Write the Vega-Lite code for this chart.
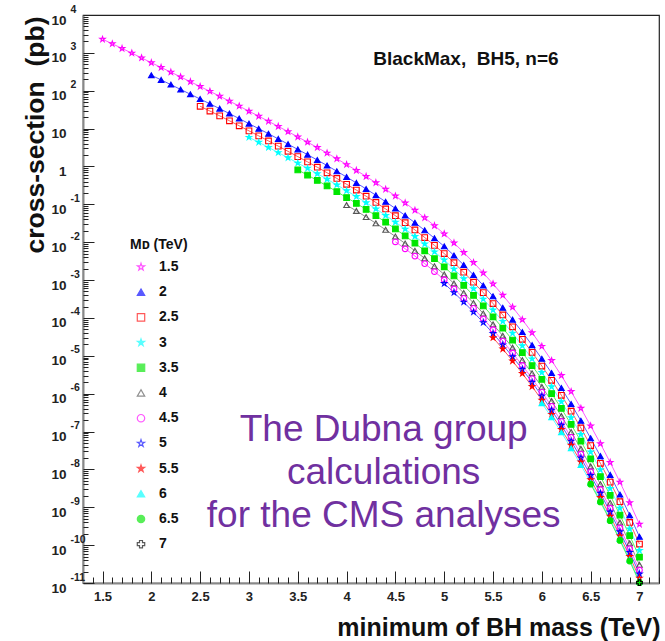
{
"$schema": "https://vega.github.io/schema/vega-lite/v6.json",
"width": 576, "height": 568,
"autosize": "none",
"padding": {"left": 83, "top": 15, "right": 6, "bottom": 58},
"background": "white",
"config": {"view": {"stroke": "#222", "strokeWidth": 1.2}, "font": "Liberation Sans"},
"resolve": {"axis": {"x": "independent", "y": "independent"}},
"datasets": {"curves": [
{"md":"1.5","mass":1.5,"xsec":2290},{"md":"1.5","mass":1.6,"xsec":1740},{"md":"1.5","mass":1.7,"xsec":1310},{"md":"1.5","mass":1.8,"xsec":986},{"md":"1.5","mass":1.9,"xsec":738},{"md":"1.5","mass":2.0,"xsec":550},{"md":"1.5","mass":2.1,"xsec":413},{"md":"1.5","mass":2.2,"xsec":310},{"md":"1.5","mass":2.3,"xsec":232},{"md":"1.5","mass":2.4,"xsec":173},{"md":"1.5","mass":2.5,"xsec":129},{"md":"1.5","mass":2.6,"xsec":96.4},{"md":"1.5","mass":2.7,"xsec":71.8},{"md":"1.5","mass":2.8,"xsec":53.2},{"md":"1.5","mass":2.9,"xsec":39.3},{"md":"1.5","mass":3.0,"xsec":28.8},{"md":"1.5","mass":3.1,"xsec":21.3},{"md":"1.5","mass":3.2,"xsec":15.6},{"md":"1.5","mass":3.3,"xsec":11.43},{"md":"1.5","mass":3.4,"xsec":8.32},{"md":"1.5","mass":3.5,"xsec":6.03},{"md":"1.5","mass":3.6,"xsec":4.39},{"md":"1.5","mass":3.7,"xsec":3.16},{"md":"1.5","mass":3.8,"xsec":2.26},{"md":"1.5","mass":3.9,"xsec":1.60},{"md":"1.5","mass":4.0,"xsec":1.122},{"md":"1.5","mass":4.1,"xsec":0.787},{"md":"1.5","mass":4.2,"xsec":0.545},{"md":"1.5","mass":4.3,"xsec":0.372},{"md":"1.5","mass":4.4,"xsec":0.250},{"md":"1.5","mass":4.5,"xsec":0.166},{"md":"1.5","mass":4.6,"xsec":0.1086},{"md":"1.5","mass":4.7,"xsec":0.0698},{"md":"1.5","mass":4.8,"xsec":0.0441},{"md":"1.5","mass":4.9,"xsec":0.0273},{"md":"1.5","mass":5.0,"xsec":0.0166},{"md":"1.5","mass":5.1,"xsec":0.00955},{"md":"1.5","mass":5.2,"xsec":0.00535},{"md":"1.5","mass":5.3,"xsec":0.00291},{"md":"1.5","mass":5.4,"xsec":0.00154},{"md":"1.5","mass":5.5,"xsec":7.94e-4},{"md":"1.5","mass":5.6,"xsec":3.98e-4},{"md":"1.5","mass":5.7,"xsec":1.93e-4},{"md":"1.5","mass":5.8,"xsec":9.02e-5},{"md":"1.5","mass":5.9,"xsec":4.07e-5},{"md":"1.5","mass":6.0,"xsec":1.78e-5},{"md":"1.5","mass":6.1,"xsec":7.50e-6},{"md":"1.5","mass":6.2,"xsec":3.01e-6},{"md":"1.5","mass":6.3,"xsec":1.14e-6},{"md":"1.5","mass":6.4,"xsec":4.12e-7},{"md":"1.5","mass":6.5,"xsec":1.41e-7},{"md":"1.5","mass":6.6,"xsec":4.79e-8},{"md":"1.5","mass":6.7,"xsec":1.53e-8},{"md":"1.5","mass":6.8,"xsec":4.62e-9},{"md":"1.5","mass":6.9,"xsec":1.32e-9},{"md":"1.5","mass":7.0,"xsec":3.55e-10},
{"md":"2","mass":2.0,"xsec":257},{"md":"2","mass":2.1,"xsec":193},{"md":"2","mass":2.2,"xsec":145},{"md":"2","mass":2.3,"xsec":108},{"md":"2","mass":2.4,"xsec":80.9},{"md":"2","mass":2.5,"xsec":60.3},{"md":"2","mass":2.6,"xsec":45.1},{"md":"2","mass":2.7,"xsec":33.6},{"md":"2","mass":2.8,"xsec":24.9},{"md":"2","mass":2.9,"xsec":18.4},{"md":"2","mass":3.0,"xsec":13.5},{"md":"2","mass":3.1,"xsec":9.95},{"md":"2","mass":3.2,"xsec":7.31},{"md":"2","mass":3.3,"xsec":5.35},{"md":"2","mass":3.4,"xsec":3.89},{"md":"2","mass":3.5,"xsec":2.82},{"md":"2","mass":3.6,"xsec":2.05},{"md":"2","mass":3.7,"xsec":1.48},{"md":"2","mass":3.8,"xsec":1.057},{"md":"2","mass":3.9,"xsec":0.748},{"md":"2","mass":4.0,"xsec":0.525},{"md":"2","mass":4.1,"xsec":0.368},{"md":"2","mass":4.2,"xsec":0.255},{"md":"2","mass":4.3,"xsec":0.174},{"md":"2","mass":4.4,"xsec":0.117},{"md":"2","mass":4.5,"xsec":0.0776},{"md":"2","mass":4.6,"xsec":0.0508},{"md":"2","mass":4.7,"xsec":0.0327},{"md":"2","mass":4.8,"xsec":0.0206},{"md":"2","mass":4.9,"xsec":0.01276},{"md":"2","mass":5.0,"xsec":7.76e-3},{"md":"2","mass":5.1,"xsec":4.47e-3},{"md":"2","mass":5.2,"xsec":2.50e-3},{"md":"2","mass":5.3,"xsec":1.36e-3},{"md":"2","mass":5.4,"xsec":7.21e-4},{"md":"2","mass":5.5,"xsec":3.72e-4},{"md":"2","mass":5.6,"xsec":1.86e-4},{"md":"2","mass":5.7,"xsec":9.02e-5},{"md":"2","mass":5.8,"xsec":4.22e-5},{"md":"2","mass":5.9,"xsec":1.91e-5},{"md":"2","mass":6.0,"xsec":8.32e-6},{"md":"2","mass":6.1,"xsec":3.51e-6},{"md":"2","mass":6.2,"xsec":1.41e-6},{"md":"2","mass":6.3,"xsec":5.35e-7},{"md":"2","mass":6.4,"xsec":1.93e-7},{"md":"2","mass":6.5,"xsec":6.61e-8},{"md":"2","mass":6.6,"xsec":2.24e-8},{"md":"2","mass":6.7,"xsec":7.16e-9},{"md":"2","mass":6.8,"xsec":2.16e-9},{"md":"2","mass":6.9,"xsec":6.17e-10},{"md":"2","mass":7.0,"xsec":1.66e-10},
{"md":"2.5","mass":2.5,"xsec":38.9},{"md":"2.5","mass":2.6,"xsec":29.1},{"md":"2.5","mass":2.7,"xsec":21.7},{"md":"2.5","mass":2.8,"xsec":16.1},{"md":"2.5","mass":2.9,"xsec":11.86},{"md":"2.5","mass":3.0,"xsec":8.71},{"md":"2.5","mass":3.1,"xsec":6.43},{"md":"2.5","mass":3.2,"xsec":4.72},{"md":"2.5","mass":3.3,"xsec":3.45},{"md":"2.5","mass":3.4,"xsec":2.51},{"md":"2.5","mass":3.5,"xsec":1.82},{"md":"2.5","mass":3.6,"xsec":1.324},{"md":"2.5","mass":3.7,"xsec":0.955},{"md":"2.5","mass":3.8,"xsec":0.682},{"md":"2.5","mass":3.9,"xsec":0.483},{"md":"2.5","mass":4.0,"xsec":0.339},{"md":"2.5","mass":4.1,"xsec":0.238},{"md":"2.5","mass":4.2,"xsec":0.164},{"md":"2.5","mass":4.3,"xsec":0.112},{"md":"2.5","mass":4.4,"xsec":0.0755},{"md":"2.5","mass":4.5,"xsec":0.0501},{"md":"2.5","mass":4.6,"xsec":0.0328},{"md":"2.5","mass":4.7,"xsec":0.0211},{"md":"2.5","mass":4.8,"xsec":0.0133},{"md":"2.5","mass":4.9,"xsec":8.24e-3},{"md":"2.5","mass":5.0,"xsec":5.01e-3},{"md":"2.5","mass":5.1,"xsec":2.88e-3},{"md":"2.5","mass":5.2,"xsec":1.61e-3},{"md":"2.5","mass":5.3,"xsec":8.79e-4},{"md":"2.5","mass":5.4,"xsec":4.66e-4},{"md":"2.5","mass":5.5,"xsec":2.40e-4},{"md":"2.5","mass":5.6,"xsec":1.20e-4},{"md":"2.5","mass":5.7,"xsec":5.82e-5},{"md":"2.5","mass":5.8,"xsec":2.72e-5},{"md":"2.5","mass":5.9,"xsec":1.23e-5},{"md":"2.5","mass":6.0,"xsec":5.37e-6},{"md":"2.5","mass":6.1,"xsec":2.26e-6},{"md":"2.5","mass":6.2,"xsec":9.08e-7},{"md":"2.5","mass":6.3,"xsec":3.45e-7},{"md":"2.5","mass":6.4,"xsec":1.24e-7},{"md":"2.5","mass":6.5,"xsec":4.27e-8},{"md":"2.5","mass":6.6,"xsec":1.45e-8},{"md":"2.5","mass":6.7,"xsec":4.62e-9},{"md":"2.5","mass":6.8,"xsec":1.40e-9},{"md":"2.5","mass":6.9,"xsec":3.98e-10},{"md":"2.5","mass":7.0,"xsec":1.07e-10},
{"md":"3","mass":3.0,"xsec":5.89},{"md":"3","mass":3.1,"xsec":4.35},{"md":"3","mass":3.2,"xsec":3.19},{"md":"3","mass":3.3,"xsec":2.33},{"md":"3","mass":3.4,"xsec":1.70},{"md":"3","mass":3.5,"xsec":1.23},{"md":"3","mass":3.6,"xsec":0.895},{"md":"3","mass":3.7,"xsec":0.646},{"md":"3","mass":3.8,"xsec":0.461},{"md":"3","mass":3.9,"xsec":0.327},{"md":"3","mass":4.0,"xsec":0.229},{"md":"3","mass":4.1,"xsec":0.161},{"md":"3","mass":4.2,"xsec":0.111},{"md":"3","mass":4.3,"xsec":0.0759},{"md":"3","mass":4.4,"xsec":0.0511},{"md":"3","mass":4.5,"xsec":0.0339},{"md":"3","mass":4.6,"xsec":0.0222},{"md":"3","mass":4.7,"xsec":0.01426},{"md":"3","mass":4.8,"xsec":8.99e-3},{"md":"3","mass":4.9,"xsec":5.57e-3},{"md":"3","mass":5.0,"xsec":3.39e-3},{"md":"3","mass":5.1,"xsec":1.95e-3},{"md":"3","mass":5.2,"xsec":1.09e-3},{"md":"3","mass":5.3,"xsec":5.94e-4},{"md":"3","mass":5.4,"xsec":3.15e-4},{"md":"3","mass":5.5,"xsec":1.62e-4},{"md":"3","mass":5.6,"xsec":8.13e-5},{"md":"3","mass":5.7,"xsec":3.94e-5},{"md":"3","mass":5.8,"xsec":1.84e-5},{"md":"3","mass":5.9,"xsec":8.32e-6},{"md":"3","mass":6.0,"xsec":3.63e-6},{"md":"3","mass":6.1,"xsec":1.53e-6},{"md":"3","mass":6.2,"xsec":6.14e-7},{"md":"3","mass":6.3,"xsec":2.33e-7},{"md":"3","mass":6.4,"xsec":8.41e-8},{"md":"3","mass":6.5,"xsec":2.88e-8},{"md":"3","mass":6.6,"xsec":9.77e-9},{"md":"3","mass":6.7,"xsec":3.13e-9},{"md":"3","mass":6.8,"xsec":9.44e-10},{"md":"3","mass":6.9,"xsec":2.69e-10},{"md":"3","mass":7.0,"xsec":7.24e-11},
{"md":"3.5","mass":3.5,"xsec":0.813},{"md":"3.5","mass":3.6,"xsec":0.592},{"md":"3.5","mass":3.7,"xsec":0.427},{"md":"3.5","mass":3.8,"xsec":0.305},{"md":"3.5","mass":3.9,"xsec":0.216},{"md":"3.5","mass":4.0,"xsec":0.151},{"md":"3.5","mass":4.1,"xsec":0.1062},{"md":"3.5","mass":4.2,"xsec":0.0735},{"md":"3.5","mass":4.3,"xsec":0.0501},{"md":"3.5","mass":4.4,"xsec":0.0337},{"md":"3.5","mass":4.5,"xsec":0.0224},{"md":"3.5","mass":4.6,"xsec":0.01466},{"md":"3.5","mass":4.7,"xsec":9.42e-3},{"md":"3.5","mass":4.8,"xsec":5.94e-3},{"md":"3.5","mass":4.9,"xsec":3.68e-3},{"md":"3.5","mass":5.0,"xsec":2.24e-3},{"md":"3.5","mass":5.1,"xsec":1.29e-3},{"md":"3.5","mass":5.2,"xsec":7.21e-4},{"md":"3.5","mass":5.3,"xsec":3.93e-4},{"md":"3.5","mass":5.4,"xsec":2.08e-4},{"md":"3.5","mass":5.5,"xsec":1.07e-4},{"md":"3.5","mass":5.6,"xsec":5.37e-5},{"md":"3.5","mass":5.7,"xsec":2.60e-5},{"md":"3.5","mass":5.8,"xsec":1.22e-5},{"md":"3.5","mass":5.9,"xsec":5.50e-6},{"md":"3.5","mass":6.0,"xsec":2.40e-6},{"md":"3.5","mass":6.1,"xsec":1.01e-6},{"md":"3.5","mass":6.2,"xsec":4.06e-7},{"md":"3.5","mass":6.3,"xsec":1.54e-7},{"md":"3.5","mass":6.4,"xsec":5.56e-8},{"md":"3.5","mass":6.5,"xsec":1.91e-8},{"md":"3.5","mass":6.6,"xsec":6.46e-9},{"md":"3.5","mass":6.7,"xsec":2.07e-9},{"md":"3.5","mass":6.8,"xsec":6.24e-10},{"md":"3.5","mass":6.9,"xsec":1.78e-10},{"md":"3.5","mass":7.0,"xsec":4.79e-11},
{"md":"4","mass":4.0,"xsec":0.0955},{"md":"4","mass":4.1,"xsec":0.0670},{"md":"4","mass":4.2,"xsec":0.0463},{"md":"4","mass":4.3,"xsec":0.0316},{"md":"4","mass":4.4,"xsec":0.0213},{"md":"4","mass":4.5,"xsec":0.01413},{"md":"4","mass":4.6,"xsec":9.25e-3},{"md":"4","mass":4.7,"xsec":5.94e-3},{"md":"4","mass":4.8,"xsec":3.75e-3},{"md":"4","mass":4.9,"xsec":2.32e-3},{"md":"4","mass":5.0,"xsec":1.41e-3},{"md":"4","mass":5.1,"xsec":8.13e-4},{"md":"4","mass":5.2,"xsec":4.55e-4},{"md":"4","mass":5.3,"xsec":2.48e-4},{"md":"4","mass":5.4,"xsec":1.31e-4},{"md":"4","mass":5.5,"xsec":6.76e-5},{"md":"4","mass":5.6,"xsec":3.39e-5},{"md":"4","mass":5.7,"xsec":1.64e-5},{"md":"4","mass":5.8,"xsec":7.67e-6},{"md":"4","mass":5.9,"xsec":3.47e-6},{"md":"4","mass":6.0,"xsec":1.51e-6},{"md":"4","mass":6.1,"xsec":6.38e-7},{"md":"4","mass":6.2,"xsec":2.56e-7},{"md":"4","mass":6.3,"xsec":9.72e-8},{"md":"4","mass":6.4,"xsec":3.51e-8},{"md":"4","mass":6.5,"xsec":1.20e-8},{"md":"4","mass":6.6,"xsec":4.07e-9},{"md":"4","mass":6.7,"xsec":1.30e-9},{"md":"4","mass":6.8,"xsec":3.94e-10},{"md":"4","mass":6.9,"xsec":1.12e-10},{"md":"4","mass":7.0,"xsec":3.02e-11},
{"md":"4.5","mass":4.5,"xsec":0.01023},{"md":"4.5","mass":4.6,"xsec":6.70e-3},{"md":"4.5","mass":4.7,"xsec":4.31e-3},{"md":"4.5","mass":4.8,"xsec":2.72e-3},{"md":"4.5","mass":4.9,"xsec":1.68e-3},{"md":"4.5","mass":5.0,"xsec":1.02e-3},{"md":"4.5","mass":5.1,"xsec":5.89e-4},{"md":"4.5","mass":5.2,"xsec":3.30e-4},{"md":"4.5","mass":5.3,"xsec":1.79e-4},{"md":"4.5","mass":5.4,"xsec":9.51e-5},{"md":"4.5","mass":5.5,"xsec":4.90e-5},{"md":"4.5","mass":5.6,"xsec":2.45e-5},{"md":"4.5","mass":5.7,"xsec":1.19e-5},{"md":"4.5","mass":5.8,"xsec":5.56e-6},{"md":"4.5","mass":5.9,"xsec":2.51e-6},{"md":"4.5","mass":6.0,"xsec":1.10e-6},{"md":"4.5","mass":6.1,"xsec":4.62e-7},{"md":"4.5","mass":6.2,"xsec":1.85e-7},{"md":"4.5","mass":6.3,"xsec":7.05e-8},{"md":"4.5","mass":6.4,"xsec":2.54e-8},{"md":"4.5","mass":6.5,"xsec":8.71e-9},{"md":"4.5","mass":6.6,"xsec":2.95e-9},{"md":"4.5","mass":6.7,"xsec":9.44e-10},{"md":"4.5","mass":6.8,"xsec":2.85e-10},{"md":"4.5","mass":6.9,"xsec":8.13e-11},{"md":"4.5","mass":7.0,"xsec":2.19e-11},
{"md":"5","mass":5.0,"xsec":8.13e-4},{"md":"5","mass":5.1,"xsec":4.68e-4},{"md":"5","mass":5.2,"xsec":2.62e-4},{"md":"5","mass":5.3,"xsec":1.43e-4},{"md":"5","mass":5.4,"xsec":7.55e-5},{"md":"5","mass":5.5,"xsec":3.89e-5},{"md":"5","mass":5.6,"xsec":1.95e-5},{"md":"5","mass":5.7,"xsec":9.44e-6},{"md":"5","mass":5.8,"xsec":4.42e-6},{"md":"5","mass":5.9,"xsec":2.00e-6},{"md":"5","mass":6.0,"xsec":8.71e-7},{"md":"5","mass":6.1,"xsec":3.67e-7},{"md":"5","mass":6.2,"xsec":1.47e-7},{"md":"5","mass":6.3,"xsec":5.60e-8},{"md":"5","mass":6.4,"xsec":2.02e-8},{"md":"5","mass":6.5,"xsec":6.92e-9},{"md":"5","mass":6.6,"xsec":2.34e-9},{"md":"5","mass":6.7,"xsec":7.50e-10},{"md":"5","mass":6.8,"xsec":2.26e-10},{"md":"5","mass":6.9,"xsec":6.46e-11},{"md":"5","mass":7.0,"xsec":1.74e-11},
{"md":"5.5","mass":5.5,"xsec":3.02e-5},{"md":"5.5","mass":5.6,"xsec":1.51e-5},{"md":"5.5","mass":5.7,"xsec":7.33e-6},{"md":"5.5","mass":5.8,"xsec":3.43e-6},{"md":"5.5","mass":5.9,"xsec":1.55e-6},{"md":"5.5","mass":6.0,"xsec":6.76e-7},{"md":"5.5","mass":6.1,"xsec":2.85e-7},{"md":"5.5","mass":6.2,"xsec":1.14e-7},{"md":"5.5","mass":6.3,"xsec":4.35e-8},{"md":"5.5","mass":6.4,"xsec":1.57e-8},{"md":"5.5","mass":6.5,"xsec":5.37e-9},{"md":"5.5","mass":6.6,"xsec":1.82e-9},{"md":"5.5","mass":6.7,"xsec":5.82e-10},{"md":"5.5","mass":6.8,"xsec":1.76e-10},{"md":"5.5","mass":6.9,"xsec":5.01e-11},{"md":"5.5","mass":7.0,"xsec":1.35e-11},
{"md":"6","mass":6.0,"xsec":5.62e-7},{"md":"6","mass":6.1,"xsec":2.37e-7},{"md":"6","mass":6.2,"xsec":9.51e-8},{"md":"6","mass":6.3,"xsec":3.61e-8},{"md":"6","mass":6.4,"xsec":1.30e-8},{"md":"6","mass":6.5,"xsec":4.47e-9},{"md":"6","mass":6.6,"xsec":1.51e-9},{"md":"6","mass":6.7,"xsec":4.84e-10},{"md":"6","mass":6.8,"xsec":1.46e-10},{"md":"6","mass":6.9,"xsec":4.17e-11},{"md":"6","mass":7.0,"xsec":1.12e-11},
{"md":"6.5","mass":6.5,"xsec":4.07e-9},{"md":"6.5","mass":6.6,"xsec":1.38e-9},{"md":"6.5","mass":6.7,"xsec":4.42e-10},{"md":"6.5","mass":6.8,"xsec":1.33e-10},{"md":"6.5","mass":6.9,"xsec":3.80e-11},{"md":"6.5","mass":7.0,"xsec":1.02e-11},
{"md":"7","mass":7.0,"xsec":1.02e-11}
]},
"layer": [
{"data": {"name": "curves"},
 "mark": {"type": "line", "strokeWidth": 1, "opacity": 0.65},
 "encoding": {
  "x": {"field": "mass", "type": "quantitative",
   "scale": {"domain": [1.3, 7.2], "nice": false, "zero": false},
   "axis": {"orient": "bottom", "values": [1.5,2.0,2.5,3.0,3.5,4.0,4.5,5.0,5.5,6.0,6.5,7.0],
    "format": "~g",
    "tickSize": -12,
    "tickColor": "#222", "domainColor": "#888", "domainWidth": 2, "grid": false,
    "labelFontSize": 13, "labelFontWeight": "bold", "labelColor": "#222", "labelPadding": 19,
    "labelOverlap": false, "labelFlush": false, "labelBound": false,
    "title": "minimum of BH mass (TeV)", "titleFontSize": 25, "titleFontWeight": "bold", "titleColor": "#111",
    "titleAnchor": "end", "titleAlign": "right", "titleBaseline": "alphabetic", "titleX": 577, "titleY": 52}},
  "y": {"field": "xsec", "type": "quantitative",
   "scale": {"type": "log", "domain": [1e-11, 1e4], "nice": false},
   "axis": {"orient": "left", "values": [1e-11,1e-10,1e-9,1e-8,1e-7,1e-6,1e-5,1e-4,0.001,0.01,0.1,1,10,100,1000,10000],
    "labelExpr": "round(log(datum.value)/LN10) == 0 ? '1' : '10'",
    "tickSize": -11,
    "tickColor": "#222", "domainColor": "#888", "domainWidth": 2, "grid": false,
    "labelFontSize": 13.5, "labelFontWeight": "bold", "labelColor": "#222", "labelPadding": 28, "labelOffset": 5,
    "labelOverlap": false, "labelFlush": false, "labelBound": false,
    "title": "cross-section\u00a0\u00a0(pb)", "titleFontSize": 26.5, "titleFontWeight": "bold", "titleColor": "#111",
    "titleAngle": 270, "titleAlign": "right", "titleBaseline": "alphabetic", "titleX": -40, "titleY": 1}},
  "stroke": {"field": "md", "type": "nominal", "title": "Mᴅ (TeV)",
   "scale": {"domain": ["1.5","2","2.5","3","3.5","4","4.5","5","5.5","6","6.5","7"],
    "range": ["#ff00ff","#0000ff","#ff0000","#00ffff","#00e600","#555555","#ff00ff","#0000ff","#ff0000","#00ffff","#00e600","#000000"]}}
 }},
{"data": {"name": "curves"},
 "mark": {"type": "point", "size": 32, "strokeWidth": 1.1, "opacity": 1},
 "encoding": {
  "x": {"field": "mass", "type": "quantitative",
   "axis": {"orient": "bottom", "values": [1.4,1.5,1.6,1.7,1.8,1.9,2.0,2.1,2.2,2.3,2.4,2.5,2.6,2.7,2.8,2.9,3.0,3.1,3.2,3.3,3.4,3.5,3.6,3.7,3.8,3.9,4.0,4.1,4.2,4.3,4.4,4.5,4.6,4.7,4.8,4.9,5.0,5.1,5.2,5.3,5.4,5.5,5.6,5.7,5.8,5.9,6.0,6.1,6.2,6.3,6.4,6.5,6.6,6.7,6.8,6.9,7.0,7.1,7.2],
    "tickSize": -6, "tickColor": "#222", "labels": false, "domain": false, "grid": false, "title": null}},
  "y": {"field": "xsec", "type": "quantitative",
   "axis": {"orient": "left", "values": [1e-11,2e-11,3e-11,4e-11,5e-11,6e-11,7e-11,8e-11,9e-11,1e-10,2e-10,3e-10,4e-10,5e-10,6e-10,7e-10,8e-10,9e-10,1e-9,2e-9,3e-9,4e-9,5e-9,6e-9,7e-9,8e-9,9e-9,1e-8,2e-8,3e-8,4e-8,5e-8,6e-8,7e-8,8e-8,9e-8,1e-7,2e-7,3e-7,4e-7,5e-7,6e-7,7e-7,8e-7,9e-7,1e-6,2e-6,3e-6,4e-6,5e-6,6e-6,7e-6,8e-6,9e-6,1e-5,2e-5,3e-5,4e-5,5e-5,6e-5,7e-5,8e-5,9e-5,1e-4,2e-4,3e-4,4e-4,5e-4,6e-4,7e-4,8e-4,9e-4,0.001,0.002,0.003,0.004,0.005,0.006,0.007,0.008,0.009,0.01,0.02,0.03,0.04,0.05,0.06,0.07,0.08,0.09,0.1,0.2,0.3,0.4,0.5,0.6,0.7,0.8,0.9,1,2,3,4,5,6,7,8,9,10,20,30,40,50,60,70,80,90,100,200,300,400,500,600,700,800,900,1000,2000,3000,4000,5000,6000,7000,8000,9000,10000],
    "labelExpr": "abs(log(datum.value)/LN10 - round(log(datum.value)/LN10)) < 0.001 ? ['-11','-10','-9','-8','-7','-6','-5','-4','-3','-2','-1','','','2','3','4'][round(log(datum.value)/LN10)+11] : ''",
    "tickSize": -5, "tickColor": "#222", "domain": false, "grid": false, "title": null,
    "labelFontSize": 10.5, "labelFontWeight": "bold", "labelColor": "#222", "labelAlign": "left", "labelPadding": 18, "labelOffset": -6,
    "labelOverlap": false, "labelFlush": false, "labelBound": false}},
  "stroke": {"field": "md", "type": "nominal", "title": "Mᴅ (TeV)"},
  "fill": {"field": "md", "type": "nominal", "title": "Mᴅ (TeV)",
   "scale": {"domain": ["1.5","2","2.5","3","3.5","4","4.5","5","5.5","6","6.5","7"],
    "range": ["transparent","#0000ff","transparent","#00ffff","#00e600","transparent","transparent","transparent","#ff0000","#00ffff","#00e600","transparent"]}},
  "shape": {"field": "md", "type": "nominal", "title": "Mᴅ (TeV)",
   "scale": {"domain": ["1.5","2","2.5","3","3.5","4","4.5","5","5.5","6","6.5","7"],
    "range": ["M0,-1L0.225,-0.309L0.951,-0.309L0.363,0.118L0.588,0.809L0,0.382L-0.588,0.809L-0.363,0.118L-0.951,-0.309L-0.225,-0.309Z","triangle-up","square","M0,-1L0.225,-0.309L0.951,-0.309L0.363,0.118L0.588,0.809L0,0.382L-0.588,0.809L-0.363,0.118L-0.951,-0.309L-0.225,-0.309Z","square","triangle-up","circle","M0,-1L0.225,-0.309L0.951,-0.309L0.363,0.118L0.588,0.809L0,0.382L-0.588,0.809L-0.363,0.118L-0.951,-0.309L-0.225,-0.309Z","M0,-1L0.225,-0.309L0.951,-0.309L0.363,0.118L0.588,0.809L0,0.382L-0.588,0.809L-0.363,0.118L-0.951,-0.309L-0.225,-0.309Z","triangle-up","circle","cross"]},
   "legend": {"orient": "none", "legendX": 47, "legendY": 223, "padding": 0,
    "titleFontSize": 14, "titleFontWeight": "bold", "titleColor": "#111", "titlePadding": 8,
    "labelFontSize": 14, "labelFontWeight": "bold", "labelColor": "#111", "labelOffset": 11,
    "symbolSize": 55, "symbolOffset": 4, "symbolStrokeWidth": 1.2, "rowPadding": 11.2}}
 }},
{"data": {"values": [{"mass": 4.273, "xsec": 479, "label": "BlackMax,\u00a0\u00a0BH5, n=6"}]},
 "mark": {"type": "text", "align": "left", "baseline": "alphabetic", "fontSize": 19, "fontWeight": "bold", "color": "#111"},
 "encoding": {
  "x": {"field": "mass", "type": "quantitative", "axis": null},
  "y": {"field": "xsec", "type": "quantitative", "axis": null},
  "text": {"field": "label"}}},
{"data": {"values": [{"mass": 4.38, "xsec": 5.64e-8, "label": "The Dubna group\ncalculations\nfor the CMS analyses"}]},
 "mark": {"type": "text", "align": "center", "baseline": "alphabetic", "fontSize": 37, "lineBreak": "\n", "lineHeight": 43, "color": "#7030a0"},
 "encoding": {
  "x": {"field": "mass", "type": "quantitative", "axis": null},
  "y": {"field": "xsec", "type": "quantitative", "axis": null},
  "text": {"field": "label"}}}
]
}
